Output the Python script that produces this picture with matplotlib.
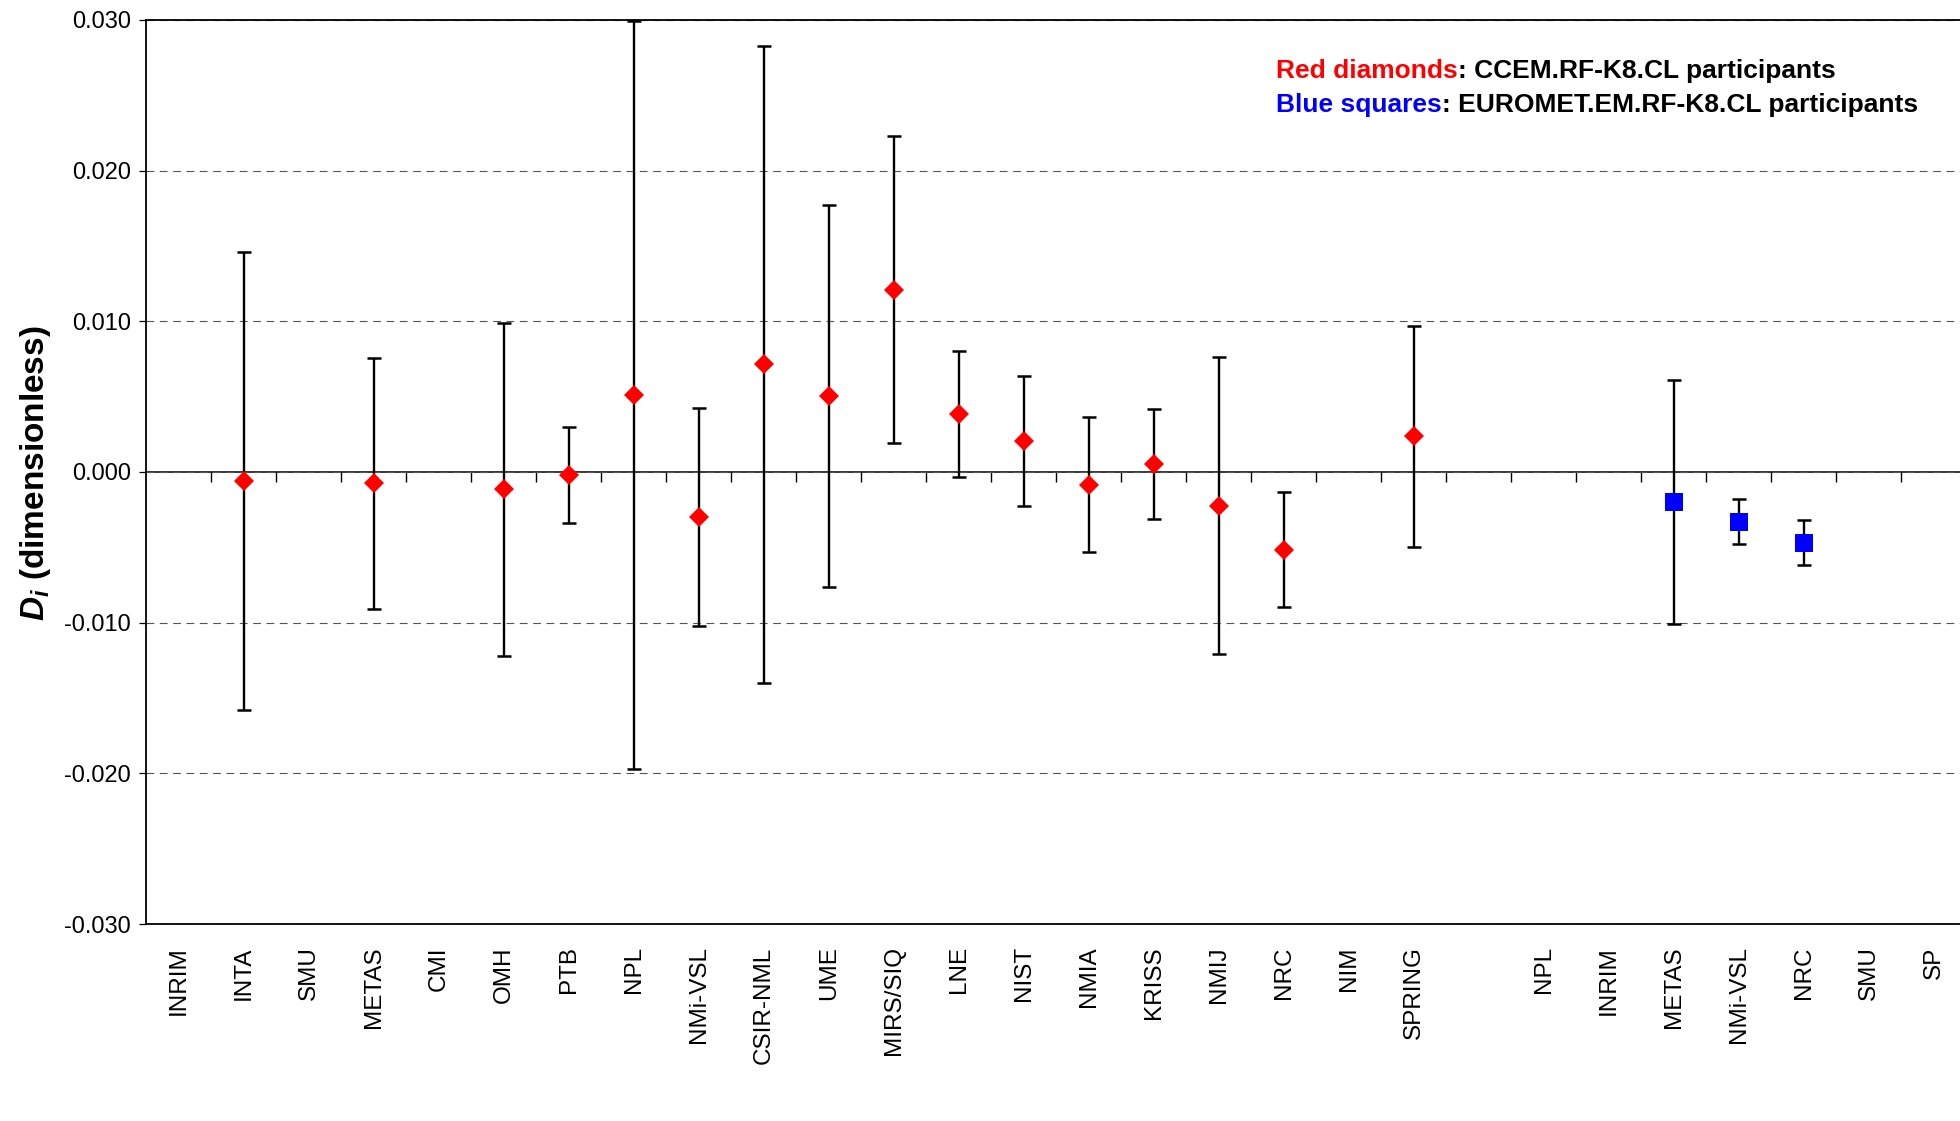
import numpy as np
import matplotlib
matplotlib.use('Agg')
import matplotlib.pyplot as plt
from matplotlib.ticker import FormatStrFormatter

plt.rcParams['font.family'] = ['Liberation Sans', 'DejaVu Sans']
plt.rcParams['mathtext.fontset'] = 'custom'
plt.rcParams['mathtext.bfit'] = 'Liberation Sans:italic:bold'
plt.rcParams['axes.unicode_minus'] = False

# institutes along the x axis (blank slot separates the two comparisons)
labs = ['INRIM', 'INTA', 'SMU', 'METAS', 'CMI', 'OMH', 'PTB', 'NPL', 'NMi-VSL', 'CSIR-NML',
        'UME', 'MIRS/SIQ', 'LNE', 'NIST', 'NMIA', 'KRISS', 'NMIJ', 'NRC', 'NIM', 'SPRING',
        '', 'NPL', 'INRIM', 'METAS', 'NMi-VSL', 'NRC', 'SMU', 'SP']

# CCEM.RF-K8.CL participants (red diamonds)
red_lab = ['INTA', 'METAS', 'OMH', 'PTB', 'NPL', 'NMi-VSL', 'CSIR-NML', 'UME', 'MIRS/SIQ',
           'LNE', 'NIST', 'NMIA', 'KRISS', 'NMIJ', 'NRC', 'SPRING']
red_d = [-0.00060, -0.00076, -0.00115, -0.00023, 0.00514, -0.00299, 0.00716, 0.00505, 0.01211,
         0.00384, 0.00204, -0.00087, 0.00054, -0.00225, -0.00516, 0.00237]
red_hi = [0.01460, 0.00756, 0.00991, 0.00296, 0.02993, 0.00422, 0.02827, 0.01773, 0.02230,
          0.00801, 0.00637, 0.00363, 0.00419, 0.00763, -0.00130, 0.00969]
red_lo = [-0.01581, -0.00907, -0.01220, -0.00341, -0.01969, -0.01020, -0.01398, -0.00764, 0.00190,
          -0.00033, -0.00225, -0.00530, -0.00311, -0.01210, -0.00898, -0.00497]

# EUROMET.EM.RF-K8.CL participants (blue squares)
blue_lab = ['METAS', 'NMi-VSL', 'NRC']
blue_d = [-0.00201, -0.00329, -0.00468]
blue_hi = [0.00611, -0.00178, -0.00318]
blue_lo = [-0.01007, -0.00481, -0.00618]

yticks = [-0.03, -0.02, -0.01, 0.0, 0.01, 0.02, 0.03]

# positions of each series in the category list
red_x = [labs.index(n) for n in red_lab]
blue_x = [labs.index(n, 21) for n in blue_lab]

fig = plt.figure(figsize=(19.6, 11.21), dpi=100)
ax = fig.add_axes([0.0745, 0.1757, 0.9255, 0.8065])

for xs, d, hi, lo, mk, col, ms in [(red_x, red_d, red_hi, red_lo, 'D', '#ff0000', 10.5),
                                   (blue_x, blue_d, blue_hi, blue_lo, 's', '#0000ff', 12.5)]:
    d = np.array(d)
    err = [d - np.array(lo), np.array(hi) - d]
    ax.errorbar(xs, d, yerr=err, fmt='none', ecolor='black', elinewidth=1.7,
                capsize=5.2, capthick=1.8, zorder=3)
    ax.plot(xs, d, linestyle='none', marker=mk, markersize=ms, color=col,
            markeredgewidth=0, zorder=4)

ax.set_xlim(-0.5, 27.4)
ax.set_ylim(yticks[0], yticks[-1])
ax.set_yticks(yticks)
ax.yaxis.set_major_formatter(FormatStrFormatter('%.3f'))
ax.tick_params(axis='y', direction='out', length=5, width=0.9, pad=6, labelsize=17)
ax.set_xticks(range(len(labs)))
ax.set_xticklabels(labs, rotation=90, fontsize=17.5, va='top', ha='center')
ax.tick_params(axis='x', length=0, pad=16)
for lbl in ax.get_xticklabels():
    lbl.set_x(lbl.get_position()[0])
ax.yaxis.grid(True, linestyle=(0, (7, 5)), color='#555555', linewidth=0.8)
ax.set_axisbelow(True)
for s in ['left', 'top', 'bottom']:
    ax.spines[s].set_linewidth(1.3)
    ax.spines[s].set_color('black')
ax.spines['right'].set_visible(False)

# category axis crossing at zero, with boundary ticks
sec = ax.secondary_xaxis(0, transform=ax.transData)
sec.set_xticks(np.arange(0.5, 27, 1))
sec.set_xticklabels([])
sec.tick_params(direction='out', length=7, width=1.0, color='black')
sec.spines['bottom'].set_linewidth(1.1)
sec.spines['bottom'].set_color('black')

fig.text(0.018, 0.578, r'$\mathbfit{D}_{\mathbfit{i}}$ (dimensionless)', rotation=90,
         ha='center', va='center', fontsize=24, fontweight='bold')

# legend notes
t1 = fig.text(0.651, 0.937, 'Red diamonds', color='#ff0000', fontsize=19, fontweight='bold',
              va='center', ha='left')
ax.annotate(': CCEM.RF-K8.CL participants', xy=(1, 0.5), xycoords=t1, va='center',
            ha='left', fontsize=19, fontweight='bold', color='black')
t2 = fig.text(0.651, 0.906, 'Blue squares', color='#0000ff', fontsize=19, fontweight='bold',
              va='center', ha='left')
ax.annotate(': EUROMET.EM.RF-K8.CL participants', xy=(1, 0.5), xycoords=t2, va='center',
            ha='left', fontsize=19, fontweight='bold', color='black')

fig.savefig('out.png', dpi=100)
